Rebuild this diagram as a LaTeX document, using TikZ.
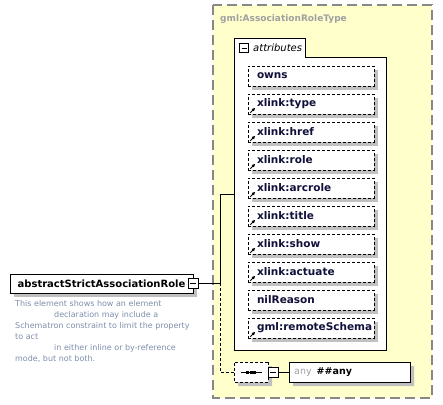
\documentclass[tikz,border=0pt]{standalone}
\usepackage{fontspec}
\setmainfont{DejaVu Sans}
\usetikzlibrary{arrows.meta, shapes.misc, shadows}

\definecolor{bgyellow}{RGB}{255,255,204}
\definecolor{framegray}{RGB}{136,136,136}
\definecolor{shadowgray}{RGB}{192,192,192}
\definecolor{titlegray}{RGB}{160,160,160}
\definecolor{desctext}{RGB}{125,142,170}
\definecolor{attrtext}{RGB}{16,16,58}

\tikzset{
  boxshadow/.style={general shadow={shadow xshift=4pt, shadow yshift=-4pt, fill=shadowgray}},
  elembox/.style={draw, fill=white, boxshadow, minimum width=183pt, minimum height=19pt, inner sep=0pt, font=\fontsize{10}{12}\selectfont\bfseries},
  attrbox/.style={draw, densely dashed, fill=white, boxshadow, text width=108pt, inner xsep=9pt, inner ysep=0pt, minimum height=20pt, align=left, text=attrtext, font=\fontsize{10.5}{12}\selectfont\bfseries},
  minusbox/.style={draw, solid, fill=white, minimum size=10pt, inner sep=0pt, path picture={\draw ([xshift=2pt]path picture bounding box.west) -- ([xshift=-2pt]path picture bounding box.east);}},
  xlinkarrow/.style={-{Latex[length=3.5pt,width=3.5pt]}, line width=1pt},
  compbox/.style={chamfered rectangle, chamfered rectangle xsep=5pt, chamfered rectangle ysep=5pt, draw, fill=white, boxshadow, minimum width=34pt, minimum height=20pt, inner sep=0pt},
}

\begin{document}
\begin{tikzpicture}[x=1pt, y=-1pt]
\useasboundingbox (0,0) rectangle (443,404);

% complex type
\draw[framegray, fill=bgyellow, line width=1.2pt, dash pattern=on 10pt off 5pt] (213,5) rectangle (432,398);
\node[anchor=west, text=titlegray, font=\fontsize{9}{11}\selectfont\bfseries, inner sep=0pt] (typename) at (220,19) {gml:AssociationRoleType};

% attributes
\draw[fill=white] (234,350) -- (234,38) -- (305,38) -- (305,57) -- (386,57) -- (386,350) -- cycle;
\node[minusbox, minimum size=9pt] (attrminus) at (244,48) {};
\node[anchor=west, inner sep=0pt, font=\fontsize{10}{12}\selectfont\itshape] (attrlabel) at (253,48) {attributes};
\coordinate (attrs) at (234,194);

\foreach \lbl/\lnk [count=\i] in {owns/0, xlink:type/1, xlink:href/1, xlink:role/1, xlink:arcrole/1,
  xlink:title/1, xlink:show/1, xlink:actuate/1, nilReason/0, gml:remoteSchema/1}{
  \node[attrbox] (a\i) at (311,{76+28*(\i-1)}) {\lbl};
  \ifnum\lnk=1
    \draw[xlinkarrow] ([xshift=2.5pt,yshift=1.5pt]a\i.south west) -- ++(5pt,5pt);
  \fi
}

% element
\node[elembox] (elem) at (101.5,283.5) {abstractStrictAssociationRole};
\node[minusbox] (elemminus) at (193,283) {};
\coordinate (fork) at (220,283);
\draw (elemminus.east) -- (fork) |- (attrs);

\node[anchor=north west, align=left, inner sep=0pt, text=desctext, font=\fontsize{8}{11}\selectfont] (desc) at (15,300)
{This element shows how an element\\ \hspace*{39pt}declaration may include a\\ Schematron constraint to limit the property\\ to act\\ \hspace*{39pt}in either inline or by-reference\\ mode, but not both.};

% sequence and any
\node[compbox, dash pattern=on 3pt off 2pt] (seq) at (251,372) {};
\draw ([xshift=7pt]seq.west) -- ([xshift=-6pt]seq.east);
\foreach \dx in {-3.5,0,3.5}
  \fill ([xshift=\dx pt]seq.center) +(-1.5pt,-1.5pt) rectangle +(1.5pt,1.5pt);
\node[minusbox] (seqminus) at (273,372) {};
\draw[dash pattern=on 3pt off 2pt] (fork) |- (seq.west);

\node[compbox, minimum width=121pt, chamfered rectangle xsep=6pt, chamfered rectangle ysep=6pt] (any) at (349.5,372) {};
\node[anchor=west, inner sep=0pt, font=\fontsize{9.5}{11}\selectfont] (anylabel) at (294,372) {\textcolor{titlegray}{any}\hspace{5pt}\textbf{\#\#any}};
\draw (seqminus.east) -- (any.west);

\end{tikzpicture}
\end{document}
